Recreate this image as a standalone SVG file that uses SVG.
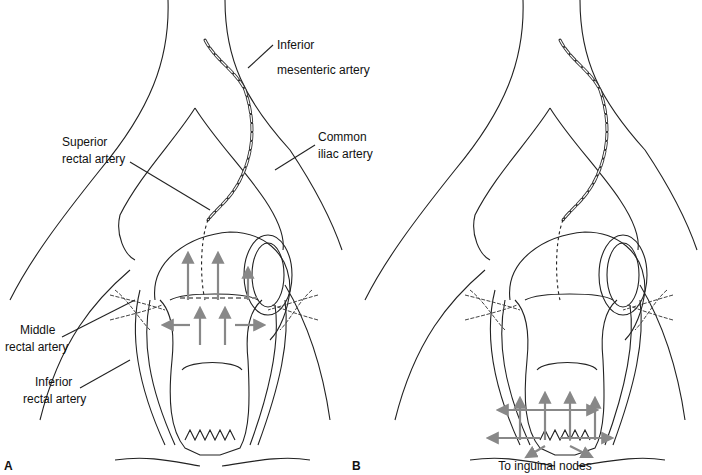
<svg xmlns="http://www.w3.org/2000/svg" width="702" height="475" viewBox="0 0 702 475">
<style>
.l{fill:none;stroke:#222;stroke-width:1.1}
.t{font-family:"Liberation Sans",Arial,sans-serif;font-size:12px;fill:#111}
.a{stroke:#888;stroke-width:2.2;fill:none;marker-end:url(#ah)}
.d{stroke:#888;stroke-width:2.2;stroke-dasharray:5 3;fill:none}
.ch{fill:none;stroke:#333;stroke-width:3;stroke-dasharray:7 2;stroke-linecap:round}
.ci{fill:none;stroke:#fff;stroke-width:1.2;stroke-dasharray:7 2}
.sc{fill:none;stroke:#444;stroke-width:1;stroke-dasharray:4 1.5}
</style>
<defs>
<marker id="ah" markerWidth="6" markerHeight="6" refX="4" refY="3" orient="auto"><path d="M0,0L6,3L0,6z" fill="#888"/></marker>
<g id="panel">
<path class="l" d="M168,0C170,60 150,110 100,170C60,220 30,260 10,300"/>
<path class="l" d="M225,0C225,60 245,100 290,150C310,180 330,215 342,250"/>
<path class="l" d="M195,108C175,140 140,175 120,215C115,235 125,255 135,260"/>
<path class="l" d="M195,108C215,140 245,170 265,200C275,215 285,235 283,250"/>
<path class="l" d="M40,420C60,340 95,300 130,270"/>
<path class="l" d="M330,420C320,350 300,310 285,285"/>
<path class="l" d="M155,300C150,260 190,235 230,232C260,232 290,250 290,290C288,310 280,330 270,340"/>
<path class="l" d="M160,300C170,310 175,330 172,360C168,400 170,430 185,448L200,455L220,455L240,448C250,430 250,400 248,360C245,330 250,310 262,300"/>
<path class="l" d="M170,300C185,292 245,292 258,300"/>
<path class="l" d="M182,370C190,360 235,360 242,370"/>
<path class="l" d="M185,440l5,-10l5,10l5,-10l5,10l5,-10l5,10l5,-10l5,10l5,-10l5,10"/>
<ellipse class="l" cx="268" cy="275" rx="24" ry="40"/>
<ellipse class="l" cx="268" cy="275" rx="16" ry="32"/>
<path class="l" d="M140,290C130,330 135,380 165,445"/>
<path class="l" d="M150,300C142,340 148,385 175,445"/>
<path class="l" d="M285,300C290,340 280,385 258,445"/>
<path class="l" d="M275,305C280,340 272,385 250,445"/>
<path class="l" d="M115,460C150,455 175,462 200,466M222,466C250,462 280,455 310,460"/>
<path class="ch" d="M205,40C215,60 235,70 245,90C255,120 255,150 240,180C230,200 215,210 208,220"/>
<path class="ci" d="M205,40C215,60 235,70 245,90C255,120 255,150 240,180C230,200 215,210 208,220"/>
<path class="sc" d="M110,295C130,300 150,305 165,310M110,320C130,315 150,310 162,305M115,290C128,300 140,320 150,330"/>
<path class="sc" d="M318,295C300,300 285,305 268,310M318,320C300,315 285,310 272,305M312,290C300,300 290,320 280,330"/>
<path class="l" d="M208,220C200,240 200,280 205,300" stroke-dasharray="3 3"/>
</g>
</defs>
<use href="#panel"/>
<use href="#panel" x="355"/>
<g id="arrowsA">
<path class="a" d="M188,300V255"/><path class="a" d="M218,300V255"/><path class="a" d="M248,300V270"/>
<path class="d" d="M180,298H258"/>
<path class="a" d="M190,325H165"/><path class="a" d="M235,325H262"/>
<path class="a" d="M200,345V310"/><path class="a" d="M225,345V310"/>
</g>
<g id="arrowsB">
<path class="a" d="M545,440V395"/><path class="a" d="M570,440V395"/><path class="a" d="M595,440V400"/><path class="a" d="M520,440V400"/>
<path class="a" d="M545,410H595"/><path class="a" d="M545,410H500"/>
<path class="a" d="M560,438H610"/><path class="a" d="M540,438H490"/>
<path class="a" d="M545,446L528,456"/><path class="a" d="M570,446L590,456"/>
</g>
<g id="leaders">
<path class="l" d="M273,45L248,68"/>
<path class="l" d="M130,162L210,210"/>
<path class="l" d="M315,145L275,170"/>
<path class="l" d="M62,337L135,300"/>
<path class="l" d="M80,388L130,360"/>
</g>
<g class="t">
<text x="277" y="49" class="t">Inferior</text><text x="277" y="74" class="t">mesenteric artery</text>
<text x="62" y="146" class="t">Superior</text><text x="62" y="163" class="t">rectal artery</text>
<text x="318" y="141" class="t">Common</text><text x="318" y="158" class="t">iliac artery</text>
<text x="20" y="334" class="t">Middle</text><text x="5" y="351" class="t">rectal artery</text>
<text x="35" y="386" class="t">Inferior</text><text x="23" y="403" class="t">rectal artery</text>
<text x="4" y="470" class="t" font-weight="bold">A</text>
<text x="352" y="470" class="t" font-weight="bold">B</text>
<text x="545" y="470" class="t" text-anchor="middle">To inguinal nodes</text>
</g>
</svg>
